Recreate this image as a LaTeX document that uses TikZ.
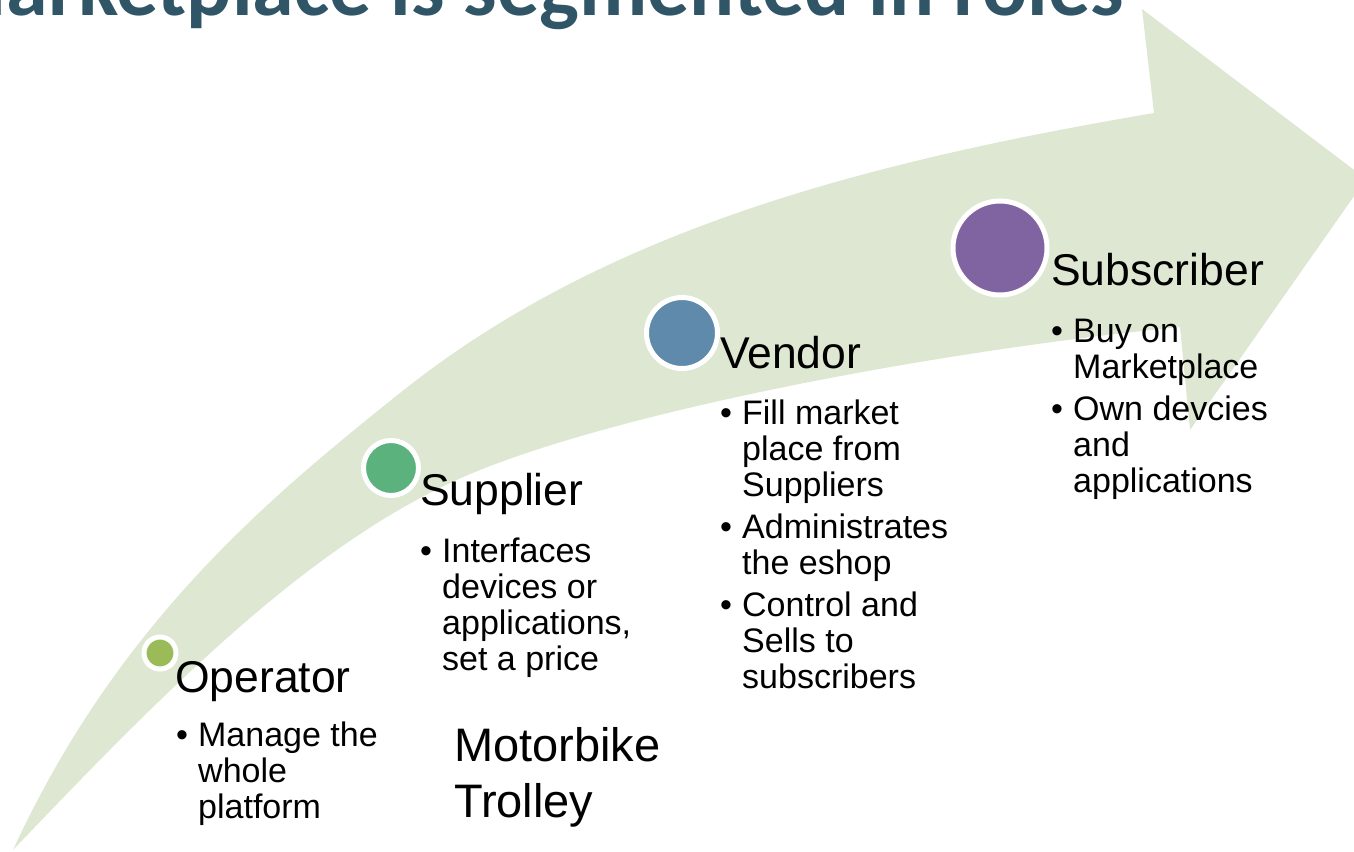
\documentclass[tikz,border=0pt]{standalone}
\usepackage{fontspec}
\setmainfont{Liberation Sans}
\newfontfamily\titlefont{Carlito}
\usepackage{tikz}
\usepackage{color}
\usetikzlibrary{calc}

\definecolor{arrowfill}{RGB}{222,231,209}
\definecolor{titleteal}{RGB}{47,85,103}
\definecolor{opgreen}{RGB}{155,187,89}
\definecolor{supgreen}{RGB}{91,178,125}
\definecolor{venblue}{RGB}{96,138,171}
\definecolor{subpurple}{RGB}{128,100,162}

\tikzset{
  dot/.style={circle, draw=white, line width=5pt, inner sep=0pt},
  head/.style={anchor=base west, inner sep=0pt, font=\fontsize{44.5}{53}\selectfont},
  bullets/.style={anchor=base west, inner sep=0pt, font=\fontsize{34}{36}\selectfont},
}
\newcommand{\itm}{\makebox[22pt][l]{\textbullet}}

\begin{document}
\begin{tikzpicture}[x=1pt, y=-1pt]
      \useasboundingbox (0,0) rectangle (1354,851);
      \clip (0,0) rectangle (1354,851);

      % the rising arrow
      \fill[arrowfill] (13,850) .. controls (118,622) and (270,497) .. (400,393)
        .. controls (600,233) and (854,164) .. (1154,113) -- (1142,9) -- (1366,179)
        -- (1190,430) -- (1180,327) .. controls (930,352) and (630,410) .. (480,470)
        .. controls (320,534) and (173,682) .. (13,850) -- cycle;

      \node (T) at (1124,16) [anchor=base east, inner sep=0pt, text=titleteal,
        font=\titlefont\bfseries\fontsize{84}{96}\selectfont] {Marketplace is segmented in roles};

      \node (Op) at (160,653)  [dot, fill=opgreen, minimum size=32pt] {};
      \node (OpH) at (175,692) [head] {Operator};
      \node (OpL) at (176,746) [bullets] {\begin{tabular}[t]{@{}l@{}l@{}}\itm & Manage the\\ & whole\\ & platform\end{tabular}};

      \node (Su) at (391,468)  [dot, fill=supgreen, minimum size=55pt] {};
      \node (SuH) at (420,505) [head] {Supplier};
      \node (SuL) at (420,562) [bullets] {\begin{tabular}[t]{@{}l@{}l@{}}\itm & Interfaces\\ & devices or\\ & applications,\\ & set a price\end{tabular}};

      \node (Ve) at (682,333)  [dot, fill=venblue, minimum size=71pt] {};
      \node (VeH) at (720,368) [head] {Vendor};
      \node (VeL) at (720,424) [bullets] {\begin{tabular}[t]{@{}l@{}l@{}}\itm & Fill market\\ & place from\\ & Suppliers\\[6pt]
        \itm & Administrates\\ & the eshop\\[6pt] \itm & Control and\\ & Sells to\\ & subscribers\end{tabular}};

      \node (Sb) at (1000,248) [dot, fill=subpurple, minimum size=94pt] {};
      \node (SbH) at (1051,285) [head] {Subscriber};
      \node (SbL) at (1051,342) [bullets] {\begin{tabular}[t]{@{}l@{}l@{}}\itm & Buy on\\ & Marketplace\\[6pt]
        \itm & Own devcies\\ & and\\ & applications\end{tabular}};

      \node (MT) at (454,761) [anchor=base west, inner sep=0pt, font=\fontsize{47}{56}\selectfont]
        {\begin{tabular}[t]{@{}l@{}}Motorbike\\Trolley\end{tabular}};

    \end{tikzpicture}
\end{document}
